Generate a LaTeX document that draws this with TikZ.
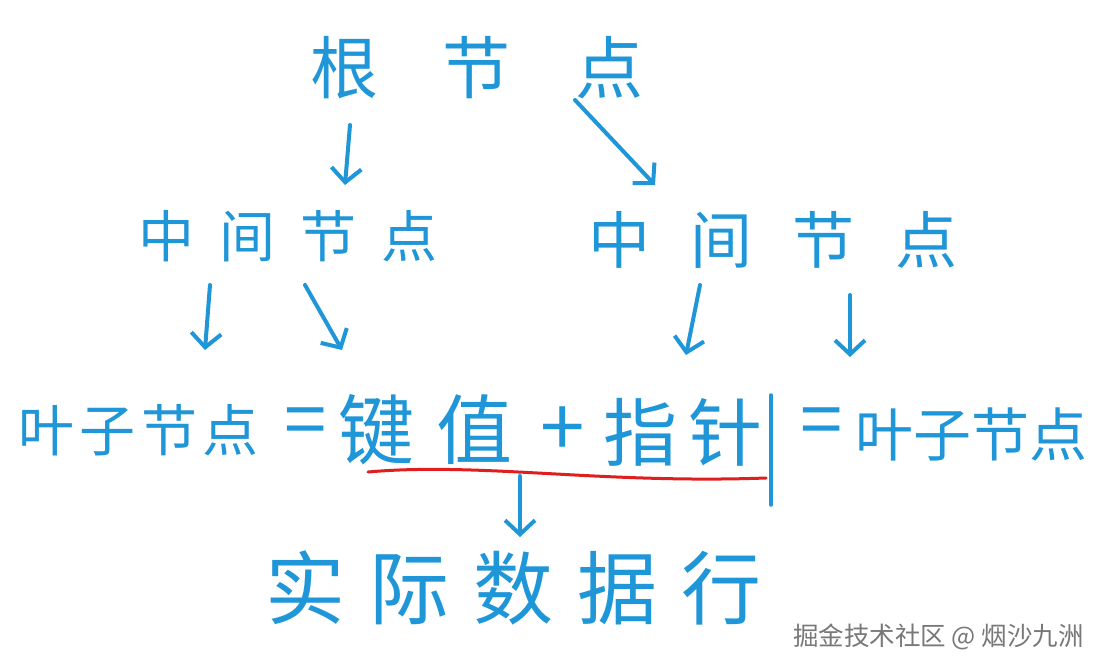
\documentclass[tikz,border=0pt]{standalone}
\usepackage{fontspec}
\setmainfont{Noto Sans CJK SC}
\usetikzlibrary{arrows.meta}
\definecolor{hb}{RGB}{30,150,215}
\definecolor{hr}{RGB}{225,30,30}
\definecolor{wm}{RGB}{120,120,120}
\tikzset{
 hand/.style={text=hb,anchor=west,inner sep=0pt},
 arr/.style={draw=hb,line width=4pt,line cap=round,-{Straight Barb[length=14pt,width=30pt,line width=4pt]}},
 sep/.style={draw=hb,line width=3.5pt,line cap=round},
}
\newcommand{\hf}[2]{\fontsize{#1}{#1}\selectfont\addfontfeature{LetterSpace=#2}}
\begin{document}
\begin{tikzpicture}[x=1pt,y=-1pt]
\fill[white] (0,0) rectangle (1098,670);
\useasboundingbox (0,0) rectangle (1098,670);
% texts
\node[hand] (root) at (310,68) {\hf{68}{95}根节点};
\node[hand] (midL) at (138,236) {\hf{56}{45}中间节点};
\node[hand] (midR) at (588,240) {\hf{62}{65}中间节点};
\node[hand] (leafL) at (18,430) {\hf{56}{10}叶子节点};
\node[hand] (eq1) at (284,428) {\hf{76}{0}=};
\node[hand] (key) at (338,430) {\hf{76}{30}键值};
\node[hand] (plus) at (540,432) {\hf{80}{0}+};
\node[hand] (ptr) at (603,432) {\hf{74}{16}指针};
\node[hand] (eq2) at (800,428) {\hf{76}{0}=};
\node[hand] (leafR) at (855,434) {\hf{58}{0}叶子节点};
\node[hand] (row) at (265,588) {\hf{80}{30}实际数据行};
\node[text=wm,anchor=east,inner sep=0pt] (wm) at (1084,637) {\fontsize{25.5}{25.5}\selectfont 掘金技术社区 @ 烟沙九洲};
% arrow end points
\coordinate (a1s) at (350,125); \coordinate (a1e) at (345,185);
\coordinate (a2s) at (575,100); \coordinate (a2e) at (655,185);
\coordinate (a3s) at (210,285); \coordinate (a3e) at (205,350);
\coordinate (a4s) at (305,285); \coordinate (a4e) at (342,350);
\coordinate (a5s) at (700,285); \coordinate (a5e) at (686,355);
\coordinate (a6s) at (850,295); \coordinate (a6e) at (850,357);
\coordinate (a7s) at (520,476); \coordinate (a7e) at (520,537);
\coordinate (v1) at (771,395); \coordinate (v2) at (771,505);
\coordinate (r1) at (368,472); \coordinate (r2) at (766,478);
\draw[arr] (a1s) -- (a1e);
\draw[arr] (a2s) -- (a2e);
\draw[arr] (a3s) -- (a3e);
\draw[arr] (a4s) -- (a4e);
\draw[arr] (a5s) -- (a5e);
\draw[arr] (a6s) -- (a6e);
\draw[arr] (a7s) -- (a7e);
\draw[sep] (v1) -- (v2);
\draw[hr,line width=3pt,line cap=round] (r1) .. controls (480,462) and (600,484) .. (r2);
\end{tikzpicture}
\end{document}
